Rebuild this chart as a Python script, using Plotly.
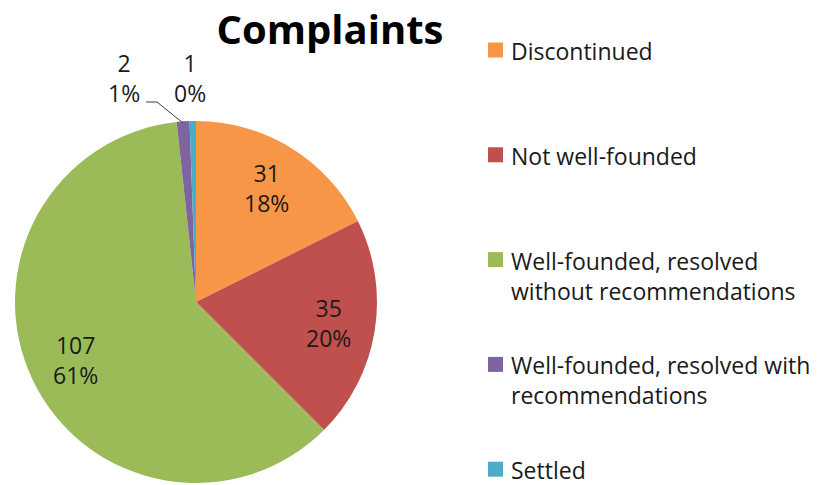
import math
import plotly.graph_objects as go

categories = ["Discontinued", "Not well-founded",
              "Well-founded, resolved<br>without recommendations",
              "Well-founded, resolved with<br>recommendations",
              "Settled"]
values = [31, 35, 107, 2, 1]
pct_labels = ["18%", "20%", "61%", "1%", "0%"]
colors = ["#F79646", "#C0504D", "#9BBB59", "#8064A2", "#4BACC6"]

W, H = 819, 485
FONT = "Open Sans"
TXT = "#1a1a1a"
LBL_SIZE = 23

# pie geometry in pixels
CX, CY, R = 196, 302, 181

def px(x):
    return x / W

def py(y):
    return 1 - y / H

label_text = [f"{v}<br>{p}" for v, p in zip(values, pct_labels)]

fig = go.Figure()
fig.add_trace(go.Pie(
    labels=categories,
    values=values,
    textinfo="none",
    marker=dict(colors=colors, line=dict(width=0)),
    sort=False,
    direction="clockwise",
    rotation=0,
    showlegend=False,
    domain=dict(x=[px(CX - R), px(CX + R)], y=[py(CY + R), py(CY - R)]),
    hoverinfo="label+value+percent",
))

# data labels: inside for big slices (at mid-angle), outside for tiny ones
total = sum(values)
cum = 0
for i, v in enumerate(values):
    mid = (cum + v / 2) / total * 2 * math.pi
    cum += v
    if v / total > 0.05:
        rr = 0.74 * R
        lx = CX + rr * math.sin(mid)
        ly = CY - rr * math.cos(mid)
        fig.add_annotation(x=px(lx), y=py(ly), xref="paper", yref="paper",
                           xanchor="center", yanchor="middle",
                           text=label_text[i], showarrow=False,
                           font=dict(family=FONT, size=LBL_SIZE, color=TXT))

# outside labels for the two tiny slices
fig.add_annotation(x=px(124), y=py(78), xref="paper", yref="paper",
                   xanchor="center", yanchor="middle",
                   text=label_text[3], showarrow=False,
                   font=dict(family=FONT, size=LBL_SIZE, color=TXT))
fig.add_annotation(x=px(190), y=py(78), xref="paper", yref="paper",
                   xanchor="center", yanchor="middle",
                   text=label_text[4], showarrow=False,
                   font=dict(family=FONT, size=LBL_SIZE, color=TXT))
fig.add_shape(type="path", xref="paper", yref="paper",
              path=f"M {px(146)},{py(102)} L {px(157)},{py(102)} L {px(183)},{py(123)}",
              line=dict(color="#404040", width=1))

# legend (drawn to match the wide Excel spacing)
LEG_TOP = 50
LEG_STEP = 104.8
for i, (cat, col) in enumerate(zip(categories, colors)):
    yc = LEG_TOP + i * LEG_STEP
    fig.add_shape(type="rect", xref="paper", yref="paper",
                  x0=px(488), x1=px(503), y0=py(yc - 7.5), y1=py(yc + 7.5),
                  fillcolor=col, line=dict(width=0))
    fig.add_annotation(x=px(509), y=py(yc - 17), xref="paper", yref="paper",
                       xanchor="left", yanchor="top", align="left",
                       text=cat, showarrow=False,
                       font=dict(family=FONT, size=23, color=TXT))

fig.update_layout(
    width=W, height=H,
    margin=dict(l=0, r=0, t=0, b=0),
    paper_bgcolor="white", plot_bgcolor="white",
    title=dict(text="<b>Complaints</b>", x=px(330), xanchor="center",
               y=py(30), yanchor="middle",
               font=dict(family=FONT, size=40, color="#000000")),
    showlegend=False,
)

fig.write_html("out.html")
